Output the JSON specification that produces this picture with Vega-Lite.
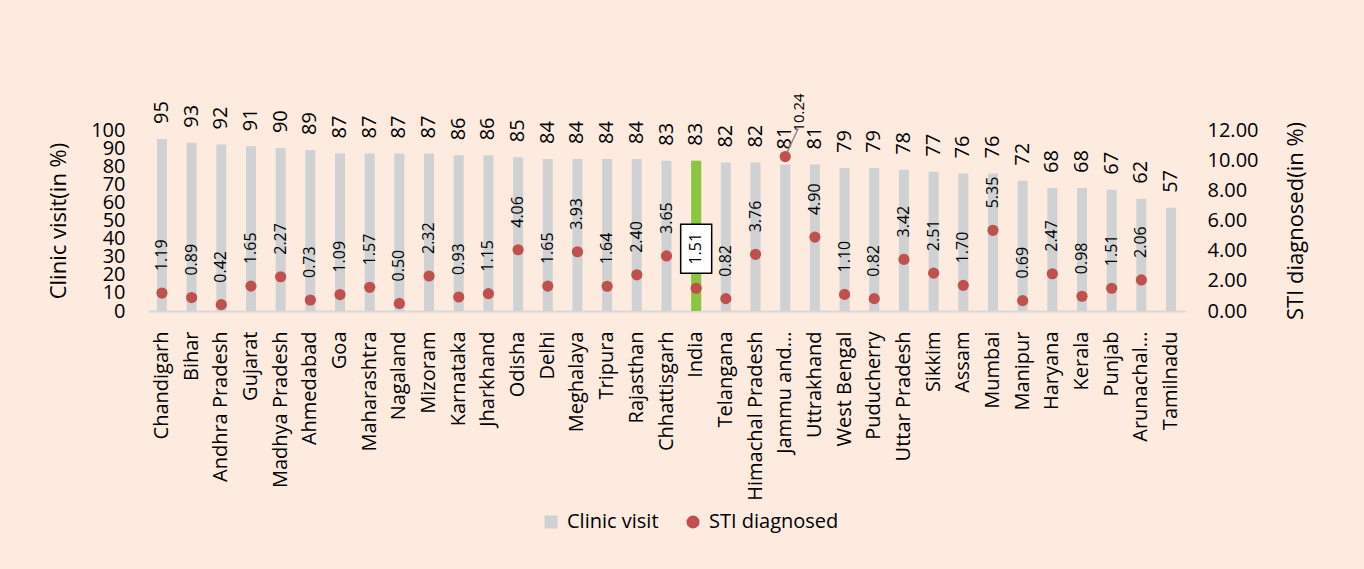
{
  "$schema": "https://vega.github.io/schema/vega-lite/v6.json",
  "width": 1037,
  "height": 181,
  "autosize": {"type": "none"},
  "padding": {"left": 148, "top": 130, "right": 179, "bottom": 258},
  "background": "#FDEBE0",
  "config": {
    "font": "Open Sans",
    "view": {"stroke": null},
    "axis": {"labelColor": "#000000", "titleColor": "#000000", "titleFontWeight": "normal", "grid": false}
  },
  "data": {
    "values": [
      {"country": "Chandigarh", "clinic": 95, "sti": 1.19},
      {"country": "Bihar", "clinic": 93, "sti": 0.89},
      {"country": "Andhra Pradesh", "clinic": 92, "sti": 0.42},
      {"country": "Gujarat", "clinic": 91, "sti": 1.65},
      {"country": "Madhya Pradesh", "clinic": 90, "sti": 2.27},
      {"country": "Ahmedabad", "clinic": 89, "sti": 0.73},
      {"country": "Goa", "clinic": 87, "sti": 1.09},
      {"country": "Maharashtra", "clinic": 87, "sti": 1.57},
      {"country": "Nagaland", "clinic": 87, "sti": 0.50},
      {"country": "Mizoram", "clinic": 87, "sti": 2.32},
      {"country": "Karnataka", "clinic": 86, "sti": 0.93},
      {"country": "Jharkhand", "clinic": 86, "sti": 1.15},
      {"country": "Odisha", "clinic": 85, "sti": 4.06},
      {"country": "Delhi", "clinic": 84, "sti": 1.65},
      {"country": "Meghalaya", "clinic": 84, "sti": 3.93},
      {"country": "Tripura", "clinic": 84, "sti": 1.64},
      {"country": "Rajasthan", "clinic": 84, "sti": 2.40},
      {"country": "Chhattisgarh", "clinic": 83, "sti": 3.65},
      {"country": "India", "clinic": 83, "sti": 1.51},
      {"country": "Telangana", "clinic": 82, "sti": 0.82},
      {"country": "Himachal Pradesh", "clinic": 82, "sti": 3.76},
      {"country": "Jammu and...", "clinic": 81, "sti": 10.24},
      {"country": "Uttrakhand", "clinic": 81, "sti": 4.90},
      {"country": "West Bengal", "clinic": 79, "sti": 1.10},
      {"country": "Puducherry", "clinic": 79, "sti": 0.82},
      {"country": "Uttar Pradesh", "clinic": 78, "sti": 3.42},
      {"country": "Sikkim", "clinic": 77, "sti": 2.51},
      {"country": "Assam", "clinic": 76, "sti": 1.70},
      {"country": "Mumbai", "clinic": 76, "sti": 5.35},
      {"country": "Manipur", "clinic": 72, "sti": 0.69},
      {"country": "Haryana", "clinic": 68, "sti": 2.47},
      {"country": "Kerala", "clinic": 68, "sti": 0.98},
      {"country": "Punjab", "clinic": 67, "sti": 1.51},
      {"country": "Arunachal...", "clinic": 62, "sti": 2.06},
      {"country": "Tamilnadu", "clinic": 57, "sti": null}
    ]
  },
  "encoding": {
    "x": {
      "field": "country",
      "type": "nominal",
      "sort": null,
      "scale": {"paddingInner": 0.6, "paddingOuter": 0.27},
      "axis": {
        "title": null,
        "labelAngle": 270,
        "labelFontSize": 20,
        "labelPadding": 20,
        "labelLimit": 300,
        "ticks": false,
        "domain": true,
        "domainColor": "#D9D9D9",
        "domainWidth": 2
      }
    }
  },
  "layer": [
    {
      "encoding": {
        "y": {
          "field": "clinic",
          "type": "quantitative",
          "scale": {"domain": [0, 100]},
          "axis": {
            "orient": "left",
            "title": "Clinic visit(in %)",
            "titleFontSize": 22,
            "titlePadding": 20,
            "values": [0, 10, 20, 30, 40, 50, 60, 70, 80, 90, 100],
            "labelFontSize": 20,
            "labelPadding": 23,
            "labelOverlap": false,
            "labelFlush": false,
            "ticks": false,
            "domain": false
          }
        }
      },
      "layer": [
        {
          "mark": {"type": "bar", "width": 10},
          "encoding": {
            "color": {
              "datum": "Clinic visit",
              "type": "nominal",
              "scale": {"domain": ["Clinic visit", "STI diagnosed"], "range": ["#D0D1D3", "#C0504D"]},
              "legend": {
                "title": null,
                "orient": "none",
                "legendX": 393,
                "legendY": 382,
                "direction": "horizontal",
                "labelFontSize": 20,
                "labelColor": "#000000",
                "symbolSize": 170,
                "symbolStrokeWidth": 0,
                "columnPadding": 24,
                "labelOffset": 6,
                "encode": {
                  "symbols": {
                    "update": {
                      "shape": {"signal": "datum.value === 'Clinic visit' ? 'square' : 'circle'"},
                      "opacity": {"value": 1}
                    }
                  }
                }
              }
            }
          }
        },
        {
          "transform": [{"filter": "datum.country === 'India'"}],
          "mark": {"type": "bar", "width": 10, "color": "#8CC63F"}
        },
        {
          "mark": {"type": "text", "angle": 270, "align": "left", "baseline": "middle", "dx": 15, "fontSize": 20, "color": "#000000"},
          "encoding": {"text": {"field": "clinic", "type": "quantitative"}}
        }
      ]
    },
    {
      "encoding": {
        "y": {
          "field": "sti",
          "type": "quantitative",
          "scale": {"domain": [0, 12]},
          "axis": {
            "orient": "right",
            "title": "STI diagnosed(in %)",
            "titleAngle": 270,
            "titleBaseline": "top",
            "titleFontSize": 22,
            "titlePadding": 28,
            "values": [0, 2, 4, 6, 8, 10, 12],
            "format": ".2f",
            "labelFontSize": 20,
            "labelPadding": 22,
            "labelOverlap": false,
            "labelFlush": false,
            "ticks": false,
            "domain": false
          }
        }
      },
      "layer": [
        {
          "transform": [{"filter": "datum.country === 'Jammu and...'"}],
          "mark": {"type": "rule", "color": "#8C8C8C", "strokeWidth": 1.5, "x2Offset": 13, "y2Offset": -28},
          "encoding": {
            "x": {"field": "country", "type": "nominal", "bandPosition": 0.5},
            "x2": {"field": "country", "bandPosition": 0.5},
            "y2": {"field": "sti"}
          }
        },
        {
          "mark": {"type": "point", "filled": true, "size": 125, "opacity": 1},
          "encoding": {"color": {"datum": "STI diagnosed", "type": "nominal"}}
        },
        {
          "transform": [{"filter": "datum.sti != null && datum.country !== 'India' && datum.country !== 'Jammu and...'"}],
          "mark": {"type": "text", "angle": 270, "align": "left", "baseline": "middle", "dx": 22, "fontSize": 16, "color": "#000000"},
          "encoding": {"text": {"field": "sti", "type": "quantitative", "format": ".2f"}}
        },
        {
          "transform": [{"filter": "datum.country === 'India'"}],
          "mark": {"type": "bar", "width": 31, "fill": "#FFFFFF", "stroke": "#000000", "strokeWidth": 1.5, "yOffset": -15, "y2Offset": -64},
          "encoding": {"y2": {"field": "sti"}}
        },
        {
          "transform": [{"filter": "datum.country === 'India'"}],
          "mark": {"type": "text", "angle": 270, "align": "center", "baseline": "middle", "dx": 39.5, "fontSize": 16, "color": "#000000"},
          "encoding": {"text": {"field": "sti", "type": "quantitative", "format": ".2f"}}
        },
        {
          "transform": [{"filter": "datum.country === 'Jammu and...'"}],
          "mark": {"type": "text", "angle": 270, "align": "left", "baseline": "middle", "dx": 25, "dy": 14, "fontSize": 15, "color": "#000000"},
          "encoding": {"text": {"field": "sti", "type": "quantitative", "format": ".2f"}}
        }
      ]
    }
  ],
  "resolve": {"scale": {"y": "independent"}}
}
